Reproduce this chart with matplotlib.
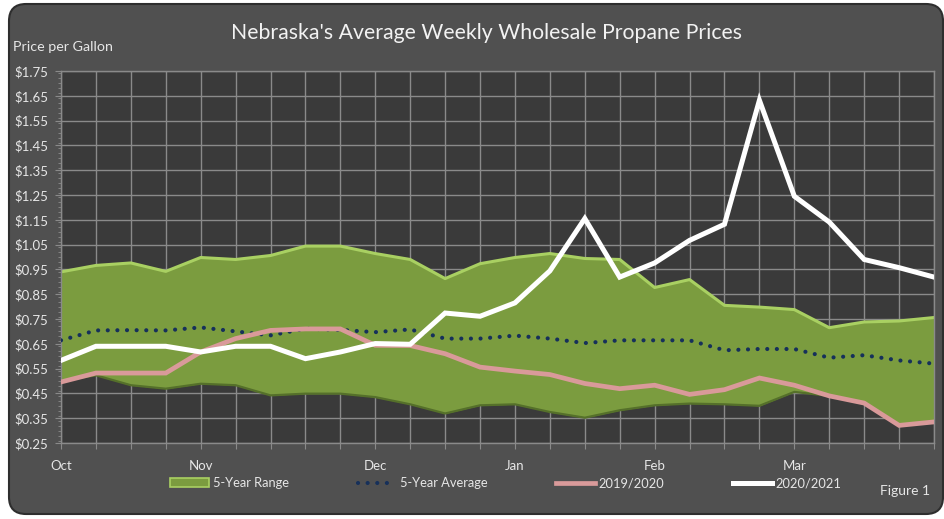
import matplotlib
matplotlib.use("Agg")
import matplotlib.pyplot as plt
from matplotlib.patches import FancyBboxPatch, Patch
from matplotlib.lines import Line2D
from matplotlib.ticker import MultipleLocator, FixedLocator, FuncFormatter
import numpy as np

plt.rcParams['font.family'] = ['Lato', 'DejaVu Sans']

# ---- data ----
week_index = list(range(26))
month_labels = ['Oct', 'Nov', 'Dec', 'Jan', 'Feb', 'Mar']
month_positions = [0, 4, 9, 13, 17, 21]

range_high = [0.94, 0.966, 0.976, 0.942, 0.998, 0.99, 1.006, 1.044, 1.044, 1.014, 0.99, 0.913,
              0.973, 0.998, 1.014, 0.994, 0.99, 0.877, 0.909, 0.805, 0.798, 0.788, 0.715, 0.738,
              0.742, 0.756]
range_low = [0.50, 0.523, 0.483, 0.469, 0.489, 0.483, 0.442, 0.449, 0.449, 0.435, 0.406, 0.369,
             0.402, 0.406, 0.375, 0.352, 0.382, 0.402, 0.409, 0.406, 0.40, 0.456, 0.44, 0.411,
             0.321, 0.335]
avg_5yr = [0.664, 0.704, 0.705, 0.704, 0.716, 0.70, 0.684, 0.711, 0.706, 0.697, 0.708, 0.671,
           0.671, 0.683, 0.671, 0.653, 0.664, 0.664, 0.664, 0.624, 0.629, 0.629, 0.594, 0.604,
           0.583, 0.57]
season_2019_2020 = [0.496, 0.532, 0.532, 0.532, 0.617, 0.671, 0.704, 0.71, 0.71, 0.644, 0.643,
                    0.61, 0.556, 0.54, 0.526, 0.49, 0.469, 0.483, 0.446, 0.465, 0.512, 0.483,
                    0.44, 0.411, 0.321, 0.335]
season_2020_2021 = [0.583, 0.64, 0.64, 0.64, 0.617, 0.64, 0.64, 0.59, 0.617, 0.651, 0.648, 0.774,
                    0.761, 0.815, 0.944, 1.155, 0.919, 0.976, 1.067, 1.132, 1.632, 1.245, 1.141,
                    0.99, 0.957, 0.919]

# ---- styles ----
panel_color = '#505050'
plot_bg = '#3a3a3a'
grid_color = '#8a8a8a'
text_color = '#e6e6e6'
green = '#7b9c3f'
green_light = '#a9d062'
green_dark = '#55702a'
pink = '#d99a9a'
navy = '#16305a'

W, H = 945, 519
fig = plt.figure(figsize=(W / 100, H / 100), dpi=100)
fig.patch.set_facecolor('white')

panel = FancyBboxPatch((9 / W, 5 / H), 934 / W, 510 / H,
                       boxstyle="round,pad=0,rounding_size=0.018",
                       transform=fig.transFigure, facecolor=panel_color,
                       edgecolor='#2e2e2e', linewidth=1.5, zorder=-5, mutation_aspect=W / H)
fig.patches.append(panel)

ax = fig.add_axes([61 / W, 1 - 443 / H, (934 - 61) / W, (443 - 71) / H])
ax.set_zorder(2)
ax.set_facecolor(plot_bg)

x = np.array(week_index)
ax.fill_between(x, range_low, range_high, color=green, zorder=2, linewidth=0)
ax.plot(x, range_high, color=green_light, lw=2.2, zorder=2.5, solid_joinstyle='round')
ax.plot(x, range_low, color=green_dark, lw=1.6, zorder=2.5, solid_joinstyle='round')
ax.plot(x, avg_5yr, color=navy, lw=3.0, linestyle=(0, (0.01, 2.3)),
        dash_capstyle='round', zorder=3)
ax.plot(x, season_2019_2020, color=pink, lw=3.4, zorder=4, solid_joinstyle='miter')
ax.plot(x, season_2020_2021, color='white', lw=3.6, zorder=5, solid_joinstyle='miter')

ax.set_xlim(0, 25)
ax.set_ylim(0.25, 1.75)
ax.yaxis.set_major_locator(FixedLocator(np.round(np.arange(0.25, 1.751, 0.1), 2)))
ax.yaxis.set_minor_locator(MultipleLocator(0.02))
ax.yaxis.set_major_formatter(FuncFormatter(lambda v, p: f'${v:.2f}'))
ax.xaxis.set_major_locator(FixedLocator(week_index))
lab = {p: m for p, m in zip(month_positions, month_labels)}
ax.set_xticklabels([lab.get(i, '') for i in week_index])

ax.grid(True, which='major', color=grid_color, lw=1.0, zorder=1)
ax.set_axisbelow(True)
for s in ax.spines.values():
    s.set_color(grid_color)
    s.set_linewidth(1.0)

ax.tick_params(axis='both', which='both', colors=grid_color, labelcolor=text_color)
ax.tick_params(axis='y', which='major', length=4, labelsize=9.5, pad=5)
ax.tick_params(axis='y', which='minor', length=2.5)
ax.tick_params(axis='x', which='major', length=4, labelsize=9.5, pad=8)

fig.text(487 / W, 1 - 33 / H, "Nebraska's Average Weekly Wholesale Propane Prices",
         ha='center', va='center', color='#f2f2f2', fontsize=15.3)
fig.text(13 / W, 1 - 47 / H, 'Price per Gallon', ha='left', va='center',
         color=text_color, fontsize=10.3)
fig.text(880 / W, 1 - 491 / H, 'Figure 1', ha='left', va='center',
         color=text_color, fontsize=10)

handles = [
    Patch(facecolor=green, edgecolor=green_light, linewidth=1.2),
    Line2D([0], [0], color=navy, lw=3.0, linestyle=(0, (0.01, 2.3)), dash_capstyle='round'),
    Line2D([0], [0], color=pink, lw=3.4),
    Line2D([0], [0], color='white', lw=3.6),
]
labels = ['5-Year Range', '5-Year Average', '2019/2020', '2020/2021']
leg = fig.legend(handles, labels, loc='center', bbox_to_anchor=(506 / W, 1 - 483 / H),
                 ncol=4, frameon=False, fontsize=9.3, labelcolor=text_color,
                 handlelength=3.0, handleheight=0.6, handletextpad=0.3, columnspacing=5.3)

fig.savefig('out.png', dpi=100, facecolor=fig.get_facecolor())
